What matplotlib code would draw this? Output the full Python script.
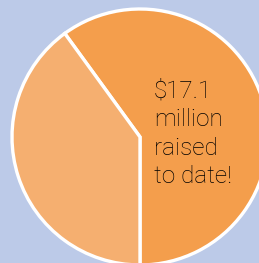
import matplotlib.pyplot as plt

# data
labels = ["Raised", "Remaining"]
values = [17.1, 11.4]
colors = ["#F49E4C", "#F5AF70"]
bg = "#BCCAE8"

fig = plt.figure(figsize=(2.59, 2.63), dpi=100)
fig.patch.set_facecolor(bg)
ax = fig.add_axes([0, 0, 1, 1])
ax.set_facecolor(bg)

ax.pie(values, colors=colors, startangle=-90, counterclock=True,
       center=(140, 126), radius=128,
       wedgeprops=dict(edgecolor="white", linewidth=2.4))

ax.set_xlim(0, 259)
ax.set_ylim(0, 263)
ax.set_aspect("equal")
ax.axis("off")

ax.text(154, 183, "$17.1\nmillion\nraised\nto date!", ha="left", va="top",
        fontsize=17.5, color="#000000", linespacing=1.3, fontweight="light",
        family=["Roboto", "DejaVu Sans"])

fig.savefig("out.png", dpi=100, facecolor=bg)
